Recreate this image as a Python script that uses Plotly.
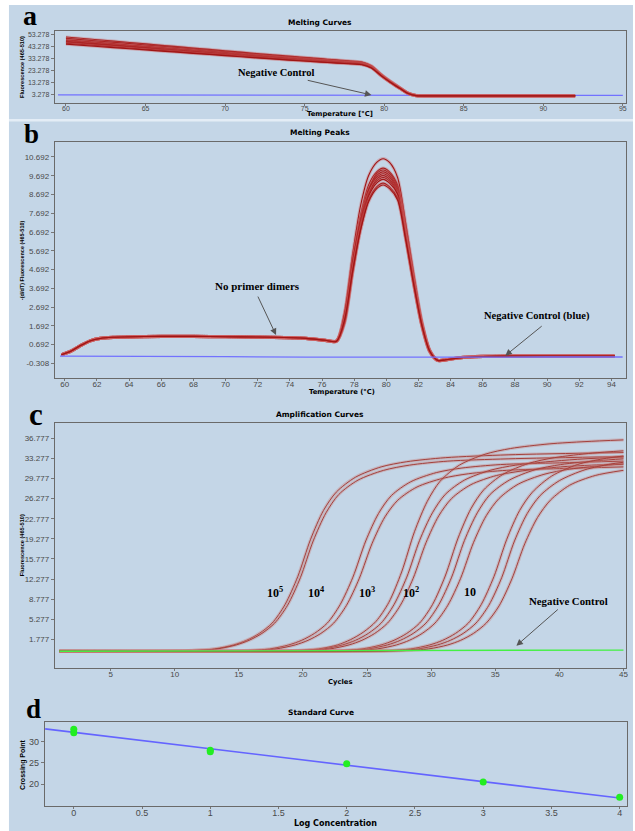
import numpy as np
import plotly.graph_objects as go

W, H = 635, 831

# ---------------- (a) Melting curves ----------------
melt_temp = [60, 62, 64, 66, 68, 70, 72, 74, 76, 77, 78, 78.6, 79.2, 79.8, 80.4, 81.0, 81.5, 82.0, 82.5, 84, 88, 92]
melt_fluor = [
    [51.0, 48.7, 46.4, 44.1, 41.8, 39.5, 37.2, 35.0, 32.9, 31.9, 30.9, 30.1, 27.0, 20.0, 14.0, 8.6, 4.3, 2.3, 2.0, 2.0, 2.0, 2.0],
    [49.8, 47.6, 45.4, 43.2, 41.0, 38.8, 36.6, 34.5, 32.5, 31.5, 30.5, 29.8, 26.7, 19.8, 13.8, 8.5, 4.2, 2.25, 2.0, 2.0, 2.0, 2.0],
    [48.6, 46.5, 44.3, 42.2, 40.0, 37.9, 35.8, 33.7, 31.8, 30.9, 30.0, 29.3, 26.3, 19.5, 13.6, 8.4, 4.15, 2.2, 2.0, 2.0, 2.0, 2.0],
    [48.0, 45.9, 43.8, 41.7, 39.6, 37.5, 35.4, 33.4, 31.5, 30.6, 29.7, 29.0, 26.1, 19.4, 13.5, 8.3, 4.1, 2.2, 2.0, 2.0, 2.0, 2.0],
    [47.4, 45.3, 43.3, 41.2, 39.1, 37.0, 35.0, 33.0, 31.2, 30.3, 29.4, 28.7, 25.9, 19.2, 13.4, 8.3, 4.1, 2.2, 2.0, 2.0, 2.0, 2.0],
    [46.8, 44.8, 42.7, 40.7, 38.6, 36.6, 34.6, 32.7, 30.9, 30.0, 29.2, 28.5, 25.7, 19.1, 13.3, 8.2, 4.0, 2.2, 2.0, 2.0, 2.0, 2.0],
    [45.8, 43.8, 41.8, 39.8, 37.8, 35.9, 34.0, 32.1, 30.4, 29.6, 28.8, 28.2, 25.4, 18.9, 13.2, 8.1, 4.0, 2.2, 2.0, 2.0, 2.0, 2.0],
    [45.0, 43.1, 41.2, 39.3, 37.4, 35.5, 33.6, 31.8, 30.1, 29.3, 28.5, 27.9, 25.2, 18.8, 13.1, 8.0, 3.9, 2.2, 2.0, 2.0, 2.0, 2.0],
]
melt_neg_temp = [59.5, 65, 70, 74, 75, 76, 80, 85, 90, 95]
melt_neg = [2.7, 2.6, 2.5, 2.4, 2.0, 2.4, 2.3, 2.3, 2.3, 2.3]
melt_xticks = [60, 65, 70, 75, 80, 85, 90, 95]
melt_yticks = [3.278, 13.278, 23.278, 33.278, 43.278, 53.278]

# ---------------- (b) Melting peaks ----------------
peak_temp = [59.8, 60.4, 61.0, 61.6, 62.2, 63.0, 65.0, 67.0, 69.0, 71.0, 73.0, 75.0, 76.2,
             76.9, 77.4, 77.9, 78.4, 78.9, 79.4, 79.8, 80.2, 80.7, 81.2, 81.7, 82.2, 82.7, 83.2, 83.7,
             84.5, 86.0, 88.0, 90.0, 92.0, 94.2]
# shared low-temperature shoulder (59.8 .. 76.2) and high-temperature tail (84.5 .. 94.2)
peak_shoulder = [0.15, 0.35, 0.65, 0.9, 1.02, 1.08, 1.12, 1.13, 1.12, 1.1, 1.08, 1.02, 0.92]
peak_tail = [-0.02, 0.06, 0.08, 0.08, 0.08, 0.08]
# per-run peak region (76.9 .. 83.7)
peak_core = [
    [0.90, 2.4, 5.5, 8.1, 9.7, 10.4, 10.6, 10.4, 9.6, 7.2, 4.5, 2.0, 0.40, -0.15, -0.12],
    [0.88, 2.3, 5.2, 7.6, 9.2, 9.9, 10.1, 9.9, 9.2, 6.9, 4.3, 1.9, 0.38, -0.15, -0.12],
    [0.87, 1.9, 4.7, 7.2, 8.9, 9.8, 10.0, 9.8, 9.1, 6.8, 4.3, 1.9, 0.36, -0.16, -0.12],
    [0.88, 2.2, 5.0, 7.4, 9.0, 9.7, 9.9, 9.7, 9.0, 6.6, 4.0, 1.75, 0.33, -0.15, -0.12],
    [0.88, 2.1, 4.9, 7.3, 8.9, 9.6, 9.8, 9.6, 8.9, 6.6, 4.1, 1.8, 0.35, -0.15, -0.12],
    [0.86, 1.8, 4.5, 7.0, 8.7, 9.5, 9.7, 9.5, 8.8, 6.5, 4.0, 1.8, 0.35, -0.15, -0.12],
    [0.88, 2.3, 5.1, 7.3, 8.7, 9.4, 9.6, 9.4, 8.7, 6.4, 3.9, 1.7, 0.30, -0.16, -0.12],
    [0.87, 2.0, 4.7, 7.0, 8.6, 9.3, 9.5, 9.3, 8.7, 6.5, 4.1, 1.85, 0.38, -0.14, -0.12],
    [0.86, 1.9, 4.5, 6.8, 8.4, 9.1, 9.3, 9.1, 8.5, 6.4, 4.0, 1.8, 0.35, -0.15, -0.12],
    [0.87, 2.0, 4.6, 6.8, 8.3, 9.0, 9.2, 9.0, 8.4, 6.3, 3.9, 1.75, 0.34, -0.15, -0.12],
]
peak_neg_temp = [59.7, 65, 70, 75, 80, 85, 90, 94.7]
peak_neg = [0.08, 0.08, 0.05, 0.02, 0.0, 0.02, 0.03, 0.03]
peak_xticks = [60, 62, 64, 66, 68, 70, 72, 74, 76, 78, 80, 82, 84, 86, 88, 90, 92, 94]
peak_yticks = [-0.308, 0.692, 1.692, 2.692, 3.692, 4.692, 5.692, 6.692, 7.692, 8.692, 9.692, 10.692]

# ---------------- (c) Amplification curves ----------------
amp_runs = {
    "1e5": [
        ([1, 11.1, 13.1, 14.6, 15.6, 16.6, 17.6, 18.6, 19.6, 20.6, 21.6, 22.6, 24.1, 26.1, 28.1, 31.1, 36, 45],
         [-0.3, -0.2, 0.1, 0.8, 1.6, 2.8, 4.6, 7.8, 12.7, 19.2, 24.2, 27.4, 30.0, 31.8, 32.7, 33.4, 33.9, 34.3]),
        ([1, 11.3, 13.3, 14.8, 15.8, 16.8, 17.8, 18.8, 19.8, 20.8, 21.8, 22.8, 24.3, 26.3, 28.3, 31.3, 36, 45],
         [-0.3, -0.2, 0.1, 0.8, 1.6, 2.8, 4.6, 7.7, 12.5, 18.9, 23.8, 27.0, 29.5, 31.2, 32.1, 32.8, 33.2, 33.6]),
    ],
    "1e4": [
        ([1, 15.4, 17.4, 18.9, 19.9, 20.9, 21.9, 22.9, 23.9, 24.9, 25.9, 26.9, 28.4, 30.4, 32.4, 35.4, 40, 45],
         [-0.3, -0.2, 0.1, 0.8, 1.6, 2.8, 4.6, 7.8, 12.6, 18.9, 23.7, 26.8, 29.2, 30.8, 31.6, 32.2, 32.5, 32.8]),
        ([1, 15.9, 17.9, 19.4, 20.4, 21.4, 22.4, 23.4, 24.4, 25.4, 26.4, 27.4, 28.9, 30.9, 32.9, 35.9, 40, 45],
         [-0.3, -0.2, 0.1, 0.8, 1.6, 2.8, 4.6, 7.7, 12.4, 18.5, 23.1, 26.0, 28.3, 29.8, 30.6, 31.2, 31.5, 31.8]),
    ],
    "1e3": [
        ([1, 19.2, 21.2, 22.7, 23.7, 24.7, 25.7, 26.7, 27.7, 28.7, 29.7, 30.7, 32.2, 34.2, 36.2, 39.2, 42, 45],
         [-0.3, -0.2, 0.1, 0.8, 1.7, 3.0, 4.9, 8.2, 13.5, 20.5, 25.8, 29.3, 32.1, 34.0, 35.0, 35.8, 36.2, 36.5]),
        ([1, 19.6, 21.6, 23.1, 24.1, 25.1, 26.1, 27.1, 28.1, 29.1, 30.1, 31.1, 32.6, 34.6, 36.6, 39.6, 42, 45],
         [-0.3, -0.2, 0.1, 0.8, 1.6, 2.8, 4.6, 7.8, 12.6, 19.0, 23.8, 27.0, 29.5, 31.2, 32.1, 32.8, 33.2, 33.5]),
        ([1, 20.1, 22.1, 23.6, 24.6, 25.6, 26.6, 27.6, 28.6, 29.6, 30.6, 31.6, 33.1, 35.1, 37.1, 40.1, 42.5, 45],
         [-0.3, -0.2, 0.1, 0.8, 1.6, 2.8, 4.6, 7.7, 12.4, 18.6, 23.3, 26.3, 28.7, 30.3, 31.1, 31.8, 32.1, 32.3]),
    ],
    "1e2": [
        ([1, 22.6, 24.6, 26.1, 27.1, 28.1, 29.1, 30.1, 31.1, 32.1, 33.1, 34.1, 35.6, 37.6, 39.6, 42.6, 45],
         [-0.3, -0.2, 0.1, 0.8, 1.6, 2.8, 4.6, 7.8, 12.8, 19.4, 24.5, 27.8, 30.5, 32.4, 33.4, 34.2, 34.6]),
        ([1, 23.1, 25.1, 26.6, 27.6, 28.6, 29.6, 30.6, 31.6, 32.6, 33.6, 34.6, 36.1, 38.1, 40.1, 43.1, 45],
         [-0.3, -0.2, 0.1, 0.8, 1.6, 2.8, 4.6, 7.8, 12.6, 19.0, 23.8, 27.0, 29.5, 31.3, 32.2, 32.9, 33.2]),
        ([1, 23.8, 25.8, 27.3, 28.3, 29.3, 30.3, 31.3, 32.3, 33.3, 34.3, 35.3, 36.8, 38.8, 40.8, 43.8, 45],
         [-0.3, -0.2, 0.1, 0.8, 1.6, 2.8, 4.6, 7.7, 12.4, 18.6, 23.3, 26.3, 28.8, 30.5, 31.4, 32.1, 32.3]),
    ],
    "1e1": [
        ([1, 26.4, 28.4, 29.9, 30.9, 31.9, 32.9, 33.9, 34.9, 35.9, 36.9, 37.9, 39.4, 41.4, 43.4, 45],
         [-0.3, -0.2, 0.1, 0.8, 1.6, 2.8, 4.6, 7.8, 12.7, 19.2, 24.2, 27.4, 30.2, 32.2, 33.2, 33.7]),
        ([1, 27.0, 29.0, 30.5, 31.5, 32.5, 33.5, 34.5, 35.5, 36.5, 37.5, 38.5, 40.0, 42.0, 44.0, 45],
         [-0.3, -0.2, 0.1, 0.8, 1.6, 2.8, 4.6, 7.7, 12.5, 18.9, 23.7, 26.8, 29.4, 31.3, 32.3, 32.6]),
        ([1, 27.8, 29.8, 31.3, 32.3, 33.3, 34.3, 35.3, 36.3, 37.3, 38.3, 39.3, 40.8, 42.8, 45],
         [-0.3, -0.2, 0.1, 0.8, 1.6, 2.8, 4.6, 7.6, 12.3, 18.4, 23.0, 26.0, 28.6, 30.3, 31.2]),
    ],
}
amp_neg_cycle = [1, 10, 20, 30, 40, 45]
amp_neg = [-0.3, -0.25, -0.2, -0.15, -0.1, -0.1]
amp_xticks = [5, 10, 15, 20, 25, 30, 35, 40, 45]
amp_yticks = [1.777, 5.277, 8.777, 12.277, 15.777, 19.277, 22.777, 26.277, 29.777, 33.277, 36.777]

# ---------------- (d) Standard curve ----------------
log_conc = [0, 0, 1, 1, 2, 3, 4]
crossing_point = [32.9, 32.1, 28.0, 27.6, 24.8, 20.5, 16.95]
std_xticks = [0, 0.5, 1, 1.5, 2, 2.5, 3, 3.5, 4]
std_yticks = [20, 25, 30]

# ---------------- styling ----------------
RED = "#a01414"
RED_HALO = "rgba(205,95,95,0.35)"
AMP_RED = "#a4403c"
AMP_HALO = "rgba(200,120,115,0.35)"
BLUE = "#7272ff"
GREEN = "#44f044"
BG = "#c4d6e7"


def px(x):
    return x / W


def py(y):
    return 1 - y / H


fig = go.Figure()


def add_line(x, y, xa, ya, color, width, halo=None, shape="spline"):
    if halo:
        fig.add_trace(go.Scatter(x=x, y=y, xaxis=xa, yaxis=ya, mode="lines",
                                 line=dict(color=halo, width=3.2, shape=shape, smoothing=0.8),
                                 hoverinfo="skip"))
    fig.add_trace(go.Scatter(x=x, y=y, xaxis=xa, yaxis=ya, mode="lines",
                             line=dict(color=color, width=width, shape=shape, smoothing=0.8),
                             hoverinfo="skip"))


# (a)
add_line(melt_neg_temp, melt_neg, "x", "y", BLUE, 1.3, shape="linear")
for curve in melt_fluor:
    add_line(melt_temp, curve, "x", "y", RED, 1.2, RED_HALO)

# (b) red runs first, blue control drawn over them
for core in peak_core:
    add_line(peak_temp, peak_shoulder + core + peak_tail, "x2", "y2", RED, 1.1, RED_HALO)
add_line(peak_neg_temp, peak_neg, "x2", "y2", BLUE, 1.3, shape="linear")

# (c)
for group in amp_runs.values():
    for cyc, fl in group:
        add_line(cyc, fl, "x3", "y3", AMP_RED, 1.0, AMP_HALO)
add_line(amp_neg_cycle, amp_neg, "x3", "y3", GREEN, 1.4, shape="linear")

# (d) regression line through the standards
slope, intercept = np.polyfit(log_conc, crossing_point, 1)
x_fit = np.array([-0.21, max(log_conc)])
fig.add_trace(go.Scatter(x=x_fit, y=slope * x_fit + intercept, xaxis="x4", yaxis="y4",
                         mode="lines", line=dict(color="#6464ff", width=1.6), hoverinfo="skip"))
fig.add_trace(go.Scatter(x=log_conc, y=crossing_point, xaxis="x4", yaxis="y4", mode="markers",
                         marker=dict(color="#22ee22", size=7), hoverinfo="skip"))


# ---------------- axes ----------------
def axis_style(size, is_x=False):
    d = dict(showline=True, mirror=True, linecolor="#6a6a6a", linewidth=1.2,
             ticks="outside", ticklen=3, tickcolor="#777", tickwidth=1,
             showgrid=False, zeroline=False,
             tickfont=dict(family="Liberation Sans", size=size, color="#4a4a4a"))
    if is_x:
        d["ticklen"] = 2
        d["ticklabelstandoff"] = -4
    return d


def fmt(v):
    return "%g" % v


fig.update_layout(
    width=W, height=H, margin=dict(l=0, r=0, t=0, b=0),
    paper_bgcolor="white", plot_bgcolor="white", showlegend=False,
    xaxis=dict(domain=[px(55), px(628)], range=[59.3, 95.2], anchor="y",
               tickvals=melt_xticks, ticktext=[fmt(v) for v in melt_xticks], **axis_style(7, True)),
    yaxis=dict(domain=[py(103), py(31)], range=[-4, 56], anchor="x",
               tickvals=melt_yticks, ticktext=["%.3f" % v for v in melt_yticks], **axis_style(7)),
    xaxis2=dict(domain=[px(55), px(628)], range=[59.38, 94.91], anchor="y2",
                tickvals=peak_xticks, ticktext=[fmt(v) for v in peak_xticks], **axis_style(8, True)),
    yaxis2=dict(domain=[py(378), py(142)], range=[-1.09, 11.49], anchor="x2",
                tickvals=peak_yticks, ticktext=["%.3f" % v for v in peak_yticks], **axis_style(8)),
    xaxis3=dict(domain=[px(55), px(628)], range=[0.65, 45.2], anchor="y3",
                tickvals=amp_xticks, ticktext=[fmt(v) for v in amp_xticks], **axis_style(8, True)),
    yaxis3=dict(domain=[py(668), py(423)], range=[-3.22, 39.44], anchor="x3",
                tickvals=amp_yticks, ticktext=["%.3f" % v for v in amp_yticks], **axis_style(8)),
    xaxis4=dict(domain=[px(45), px(629)], range=[-0.212, 4.054], anchor="y4",
                tickvals=std_xticks, ticktext=[fmt(v) for v in std_xticks], **axis_style(9, True)),
    yaxis4=dict(domain=[py(806), py(722)], range=[14.9, 34.6], anchor="x4",
                tickvals=std_yticks, ticktext=[fmt(v) for v in std_yticks], **axis_style(9)),
)

# page background and divider
fig.add_shape(type="rect", xref="paper", yref="paper", x0=px(9), x1=1, y0=0, y1=py(5),
              fillcolor=BG, line=dict(width=0), layer="below")
fig.add_shape(type="rect", xref="paper", yref="paper", x0=px(9), x1=1, y0=py(121.5), y1=py(119),
              fillcolor="#e4edf6", line=dict(width=0), layer="below")

ann = []


def text(x, y, s, size, family="DejaVu Sans", bold=True, angle=0, color="black"):
    ann.append(dict(x=px(x), y=py(y), xref="paper", yref="paper", text=("<b>%s</b>" % s) if bold else s,
                    showarrow=False, textangle=angle, xanchor="center", yanchor="middle",
                    font=dict(family=family, size=size, color=color)))


def arrow(xa, ya, head, tail):
    ann.append(dict(x=head[0], y=head[1], ax=tail[0], ay=tail[1], xref=xa, yref=ya,
                    axref=xa, ayref=ya, text="", showarrow=True, arrowhead=2, arrowsize=1.3,
                    arrowwidth=1, arrowcolor="#555", standoff=0))


# panel letters
text(30.5, 15.5, "a", 28, "Liberation Serif")
text(32, 133.5, "b", 27, "Liberation Serif")
text(36.5, 414, "c", 31, "Liberation Serif")
text(34, 709, "d", 27, "Liberation Serif")

# panel titles
text(321, 22.5, "Melting Curves", 7.5)
text(321, 132.7, "Melting Peaks", 7.5)
text(321, 414, "Amplification Curves", 7.5)
text(322, 712, "Standard Curve", 7.5)

# axis titles
text(341, 113.5, "Temperature [°C]", 6.8)
text(343, 391.5, "Temperature (°C)", 6.8)
text(341.5, 682, "Cycles", 6.8)
text(337, 823, "Log Concentration", 8)
text(22, 67, "Fluorescence (465-510)", 5.6, "Liberation Sans", angle=-90)
text(21.7, 260.5, "-(d/dT) Fluorescence (465-510)", 5.5, "Liberation Sans", angle=-90)
text(21.7, 545.5, "Fluorescence (465-510)", 5.6, "Liberation Sans", angle=-90)
text(23, 765, "Crossing Point", 7, "Liberation Sans", angle=-90)

# callouts
text(277, 73, "Negative Control", 10.5, "Liberation Serif")
arrow("x", "y", (79.2, 2.7), (75.1, 15.2))
text(258, 285.7, "No primer dimers", 11, "Liberation Serif")
arrow("x2", "y2", (73.14, 1.2), (71.97, 3.33))
text(538.5, 316, "Negative Control (blue)", 10.5, "Liberation Serif")
arrow("x2", "y2", (87.4, 0.1), (89.76, 1.74))
for xpos, lab in [(276, "10<sup>5</sup>"), (318, "10<sup>4</sup>"), (368.5, "10<sup>3</sup>"),
                  (412, "10<sup>2</sup>"), (471.5, "10")]:
    text(xpos, 592, lab, 12, "Liberation Serif")
text(570, 601, "Negative Control", 10.8, "Liberation Serif")
arrow("x3", "y3", (36.65, 0.66), (40.0, 7.2))

fig.update_layout(annotations=ann)
fig.write_html("out.html")
